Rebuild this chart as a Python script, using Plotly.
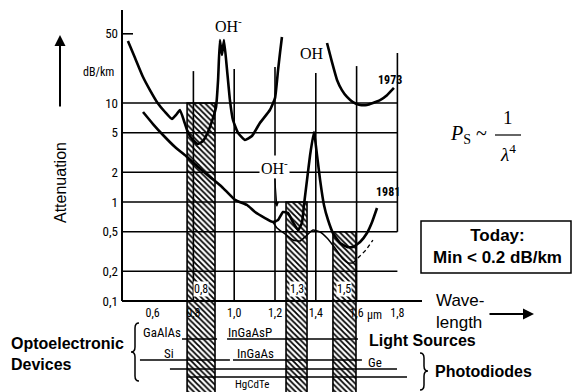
import plotly.graph_objects as go

# ---------------- data ----------------
# 1973 attenuation curve (two visible pieces, the OH peak at 1.39 um runs off the top)
lam_1973_a = [0.479, 0.514, 0.553, 0.587, 0.622, 0.661, 0.695, 0.715, 0.734, 0.754,
              0.774, 0.798, 0.823, 0.847, 0.867, 0.896, 0.911, 0.921, 0.930, 0.940,
              0.950, 0.965, 0.979, 0.994, 1.019, 1.053, 1.087, 1.126, 1.175, 1.200,
              1.215, 1.225, 1.234]
att_1973_a = [42.3, 28.5, 18.3, 13.5, 10.2, 8.11, 6.89, 7.57, 8.50, 6.58,
              4.98, 4.23, 3.85, 4.13, 4.87, 7.05, 9.12, 17.1, 43.3, 30.5,
              43.3, 21.5, 10.7, 6.73, 4.98, 4.23, 4.64, 6.28, 8.50, 11.2,
              21.5, 32.7, 46.4]
lam_1973_b = [1.455, 1.479, 1.504, 1.528, 1.553, 1.582, 1.617, 1.651, 1.680, 1.715, 1.749, 1.783]
att_1973_b = [40.4, 26.0, 17.1, 13.5, 11.5, 10.2, 9.55, 9.55, 10.0, 10.7, 12.0, 14.2]

# 1981 attenuation curve
lam_1981 = [0.553, 0.602, 0.651, 0.710, 0.769, 0.823, 0.881, 0.940, 1.004, 1.063,
            1.102, 1.151, 1.190, 1.215, 1.239, 1.264, 1.288, 1.313, 1.332, 1.342,
            1.357, 1.372, 1.391, 1.406, 1.421, 1.440, 1.460, 1.484, 1.519, 1.553,
            1.582, 1.617, 1.651, 1.676, 1.700]
att_1981 = [8.11, 6.13, 4.75, 3.59, 2.85, 2.26, 1.79, 1.42, 1.05, 0.933,
            0.792, 0.689, 0.628, 0.658, 0.792, 0.774, 0.628, 0.521, 0.614, 0.933,
            1.67, 2.98, 5.09, 2.98, 1.67, 0.933, 0.658, 0.486, 0.386, 0.351,
            0.351, 0.394, 0.486, 0.628, 0.869]
# lower (improved) 1981 curve and its dashed extension
lam_1981_low = [1.190, 1.210, 1.249, 1.288, 1.323, 1.352, 1.386, 1.421, 1.455, 1.494,
                1.533, 1.558, 1.582]
att_1981_low = [0.628, 0.546, 0.475, 0.413, 0.404, 0.454, 0.521, 0.498, 0.433, 0.343,
                0.265, 0.242, 0.242]
lam_1981_ext = [1.582, 1.607, 1.646, 1.680]
att_1981_ext = [0.242, 0.272, 0.327, 0.413]

# transmission windows (hatched bars)
window_labels = ["0,8", "1,3", "1,5"]
window_lo = [0.769, 1.254, 1.484]
window_hi = [0.906, 1.357, 1.597]
window_top = [10, 1, 0.5]

# axes
x_ticks = [0.6, 0.8, 1.0, 1.2, 1.4, 1.6, 1.8]
x_ticktext = ["0,6", "0,8", "1,0", "1,2", "1,4", "1,6", "1,8"]
y_ticks = [0.1, 0.2, 0.5, 1, 2, 5, 10, 50]
y_ticktext = ["0,1", "0,2", "0,5", "1", "2", "5", "10", "50"]
grid_att = [0.2, 0.5, 1, 2, 5, 10]
grid_lam = [0.8, 1.0, 1.2, 1.4, 1.6, 1.8]
grid_lam_top = [21.0, 22.0, 23.1, 20.1, 23.6, 32.0]
grid_lam_bottom = [0.1, 0.1, 0.1, 0.1, 0.1, 0.5]

# devices
source_names = ["GaAlAs", "InGaAsP"]
source_lo = [0.744, 0.965]
source_hi = [0.916, 1.607]
diode_names = ["Si", "InGaAs", "Ge", "HgCdTe"]
diode_lo = [0.538, 0.994, 0.685, 0.769]
diode_hi = [0.979, 1.626, 1.798, 1.847]

# ---------------- layout calibration ----------------
W, H = 573, 392
AX_X = 122      # pixel column of the attenuation axis (lambda = 0.45)
LAM0 = 0.45
PX_UM = 204.0   # pixels per micrometre
AX_Y = 301      # pixel row of the 0.1 dB/km line
PX_DEC = 99.0   # pixels per decade

x_range = [LAM0 - AX_X / PX_UM, LAM0 + (W - AX_X) / PX_UM]
y_range = [-1 - (H - AX_Y) / PX_DEC, -1 + AX_Y / PX_DEC]


def att_at(py):
    return 10 ** (-1 + (AX_Y - py) / PX_DEC)


def lam_at(px):
    return LAM0 + (px - AX_X) / PX_UM


def pp(x, y):
    return x / W, 1 - y / H


NARROW = "Roboto Condensed, Liberation Sans Narrow, Roboto, sans-serif"
SANS = "Liberation Sans, Arial, sans-serif"
SERIF = "Liberation Serif, Times New Roman, serif"

fig = go.Figure()

# hatched windows
for lo, hi, top in zip(window_lo, window_hi, window_top):
    bottom = 0.004
    fig.add_trace(go.Scatter(
        x=[lo, hi, hi, lo, lo], y=[bottom, bottom, top, top, bottom],
        mode="lines", fill="toself", fillcolor="white",
        fillpattern=dict(shape="\\", fgcolor="black", bgcolor="white", size=4, solidity=0.45),
        line=dict(color="black", width=1.6), hoverinfo="skip", showlegend=False))

# grid lines
gx, gy = [], []
for a in grid_att:
    gx += [LAM0, 1.8, None]
    gy += [a, a, None]
gx += [LAM0, lam_at(133), None]
gy += [50, 50, None]
for lam, t, b in zip(grid_lam, grid_lam_top, grid_lam_bottom):
    gx += [lam, lam, None]
    gy += [b, t, None]
fig.add_trace(go.Scatter(x=gx, y=gy, mode="lines", line=dict(color="black", width=1.6),
                         hoverinfo="skip", showlegend=False))

# axis frame
fig.add_trace(go.Scatter(x=[LAM0, LAM0, None, LAM0, lam_at(422)],
                         y=[att_at(10), 0.1, None, 0.1, 0.1],
                         mode="lines", line=dict(color="black", width=2),
                         hoverinfo="skip", showlegend=False))

# device lines
row_px = {"GaAlAs": 339, "InGaAsP": 339, "Si": 360, "InGaAs": 360, "Ge": 369, "HgCdTe": 377}
dx, dy = [], []
for names, los, his in ((source_names, source_lo, source_hi), (diode_names, diode_lo, diode_hi)):
    for n, lo, hi in zip(names, los, his):
        v = att_at(row_px[n])
        dx += [lo, hi, None]
        dy += [v, v, None]
fig.add_trace(go.Scatter(x=dx, y=dy, mode="lines", line=dict(color="black", width=1.3),
                         hoverinfo="skip", showlegend=False))

# attenuation curves
thick = dict(color="black", width=2.6, shape="spline", smoothing=0.4)
for xs, ys in ((lam_1973_a, att_1973_a), (lam_1973_b, att_1973_b), (lam_1981, att_1981)):
    fig.add_trace(go.Scatter(x=xs, y=ys, mode="lines", line=thick,
                             hoverinfo="skip", showlegend=False))
fig.add_trace(go.Scatter(x=lam_1981_low, y=att_1981_low, mode="lines",
                         line=dict(color="black", width=1.5, shape="spline", smoothing=0.5),
                         hoverinfo="skip", showlegend=False))
fig.add_trace(go.Scatter(x=lam_1981_ext, y=att_1981_ext, mode="lines",
                         line=dict(color="black", width=1.3, dash="4px,3px"),
                         hoverinfo="skip", showlegend=False))

ann = []


def text(s, x, y, size, family=SANS, bold=False, **kw):
    ax, ay = pp(x, y)
    d = dict(text=s, x=ax, y=ay, xref="paper", yref="paper", showarrow=False,
             font=dict(size=size, family=family, color="black",
                       weight="bold" if bold else "normal"),
             xanchor=kw.pop("xanchor", "center"), yanchor=kw.pop("yanchor", "middle"))
    d.update(kw)
    ann.append(d)


# window labels inside the bars
for lab, lo, hi in zip(window_labels, window_lo, window_hi):
    cx = AX_X + ((lo + hi) / 2 - LAM0) * PX_UM
    text(lab, cx, 289, 12, NARROW, bgcolor="white", borderpad=0)

text("µm", 374, 315, 12, NARROW)
text("dB/km", 98, 72, 12, NARROW)
text("1973", 390, 80, 12, NARROW, bold=True)
text("1981", 388, 192, 12, NARROW, bold=True)
text("OH<sup>-</sup>", 228, 25, 16, SERIF)
text("OH", 312, 54, 16, SERIF)

# OH- arrow near 1.24 um
tx, ty = pp(277, 207)
ann.append(dict(text="OH<sup>-</sup>", x=tx, y=ty, xref="paper", yref="paper",
                showarrow=True, ax=-3, ay=-40, arrowhead=2, arrowsize=1, arrowwidth=1,
                arrowcolor="black", bgcolor="white",
                font=dict(size=16, family=SERIF, color="black")))

# Attenuation label and arrow
text("Attenuation", 60, 183, 16, SANS, textangle=-90)
tx, ty = pp(60, 35)
ann.append(dict(text="", x=tx, y=ty, xref="paper", yref="paper", showarrow=True,
                ax=0, ay=73, arrowhead=2, arrowsize=1.1, arrowwidth=2, arrowcolor="black"))

# wavelength label and arrow
text("Wave-<br>length", 434, 311, 17, SANS, xanchor="left", align="left")
tx, ty = pp(534, 314)
ann.append(dict(text="", x=tx, y=ty, xref="paper", yref="paper", showarrow=True,
                ax=-46, ay=0, arrowhead=2, arrowsize=1.1, arrowwidth=2, arrowcolor="black"))

# formula
text("<i>P</i><sub>S</sub> ~", 468, 134, 20, SERIF)
text("1", 508, 118, 19, SERIF)
text("<i>λ</i><sup>4</sup>", 508, 153, 19, SERIF)

# today box text
text("Today:<br>Min &lt; 0.2 dB/km", 497, 247, 17, SANS, bold=True)

# device labels
dev_lab = {"GaAlAs": (162, 332), "InGaAsP": (250, 332), "Si": (169, 353),
           "InGaAs": (255, 353), "Ge": (375, 362), "HgCdTe": (252, 384)}
for n in source_names + diode_names:
    x, y = dev_lab[n]
    text(n, x, y, 11 if n == "HgCdTe" else 13, NARROW)

text("Optoelectronic<br>Devices", 9, 354, 16, SANS, bold=True, xanchor="left", align="left")
text("Light Sources", 367, 340, 16, SANS, bold=True, xanchor="left")
text("Photodiodes", 433, 371, 16, SANS, bold=True, xanchor="left")


def path(points):
    out = []
    for cmd, pts in points:
        s = cmd
        for (x, y) in pts:
            a, b = pp(x, y)
            s += f" {a:.5f},{b:.5f}"
        out.append(s)
    return " ".join(out)


brace_left = path([("M", [(139, 323)]), ("Q", [(135, 323), (135, 328)]), ("L", [(135, 347)]),
                   ("Q", [(135, 352), (131, 352)]), ("Q", [(135, 352), (135, 357)]),
                   ("L", [(135, 376)]), ("Q", [(135, 381), (139, 381)])])
brace_right = path([("M", [(420, 353)]), ("Q", [(424, 353), (424, 358)]), ("L", [(424, 366)]),
                    ("Q", [(424, 371), (428, 371)]), ("Q", [(424, 371), (424, 376)]),
                    ("L", [(424, 385)]), ("Q", [(424, 390), (420, 390)])])

bx0, by0 = pp(421, 273)
bx1, by1 = pp(571, 221)
fx0, fy = pp(495, 135)
fx1, _ = pp(521, 135)
shapes = [
    dict(type="path", path=brace_left, xref="paper", yref="paper", line=dict(color="black", width=1.5)),
    dict(type="path", path=brace_right, xref="paper", yref="paper", line=dict(color="black", width=1.5)),
    dict(type="rect", x0=bx0, y0=by0, x1=bx1, y1=by1, xref="paper", yref="paper",
         line=dict(color="black", width=1.5)),
    dict(type="line", x0=fx0, y0=fy, x1=fx1, y1=fy, xref="paper", yref="paper",
         line=dict(color="black", width=1.2)),
]

fig.update_layout(
    template="none",
    width=W, height=H,
    margin=dict(l=0, r=0, t=0, b=0),
    paper_bgcolor="white", plot_bgcolor="white",
    showlegend=False,
    xaxis=dict(range=x_range, showgrid=False, zeroline=False, showline=False,
               tickvals=x_ticks, ticktext=x_ticktext, ticks="", anchor="free",
               position=1 - AX_Y / H, automargin=False, ticklabelstandoff=3,
               tickfont=dict(size=12, family=NARROW, color="black")),
    yaxis=dict(type="log", range=y_range, showgrid=False, zeroline=False, showline=False,
               tickvals=y_ticks, ticktext=y_ticktext, ticks="", anchor="free",
               position=AX_X / W, automargin=False, ticklabelstandoff=4,
               tickfont=dict(size=13, family=NARROW, color="black")),
    annotations=ann,
    shapes=shapes,
)

fig.write_html("out.html", config={"displayModeBar": False},
               post_script="document.body.style.margin='0';")
